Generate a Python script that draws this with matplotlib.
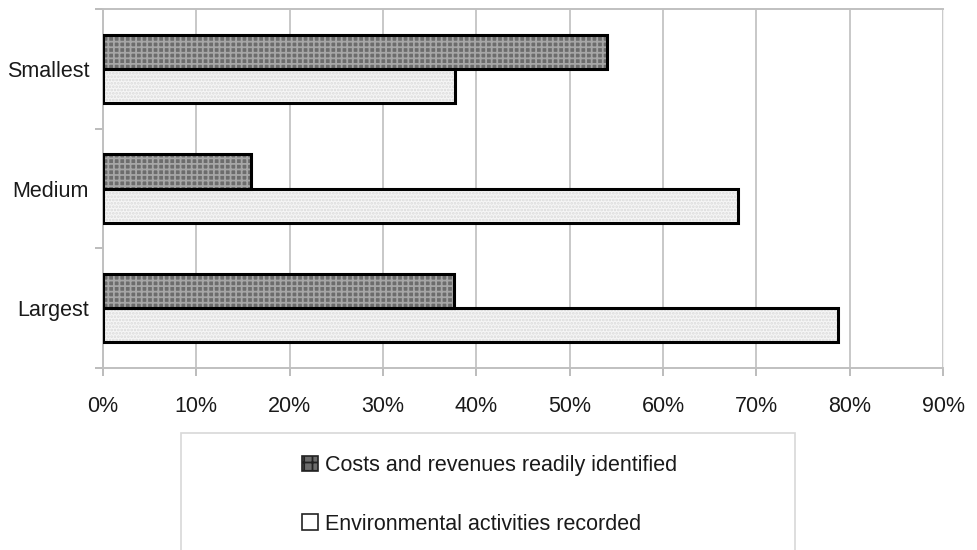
import numpy as np
import matplotlib.pyplot as plt
from matplotlib.patches import Rectangle, Patch
from matplotlib.ticker import FixedLocator, PercentFormatter

plt.rcParams['font.family'] = ['Liberation Sans', 'DejaVu Sans']
plt.rcParams['hatch.linewidth'] = 1.3

# share of firms in each size band (%)
sizes = ['Largest', 'Medium', 'Smallest']
costs_identified = [37.6, 15.9, 54.0]
activities_recorded = [78.8, 68.0, 37.7]
labels = ['Costs and revenues readily identified', 'Environmental activities recorded']
xticks = [0, 10, 20, 30, 40, 50, 60, 70, 80, 90]

fig = plt.figure(figsize=(9.77, 5.5), dpi=100)
ax = fig.add_axes([0.1054, 0.3309, 0.8598, 0.6527])

y = np.arange(len(sizes))
h = 0.285

dark_face, dark_hatch = '#6c6c6c', '#a6a6a6'
light_face, light_hatch = '#f6f6f6', '#dadada'

# fill + hatch first, then the black outlines on top
ax.barh(y + h / 2, costs_identified, height=h, color=dark_face,
        edgecolor=dark_hatch, hatch='+++', linewidth=0, zorder=2)
ax.barh(y - h / 2, activities_recorded, height=h, color=light_face,
        edgecolor=light_hatch, hatch='.....', linewidth=0, zorder=2)
ax.barh(y + h / 2, costs_identified, height=h, fill=False,
        edgecolor='black', linewidth=2.2, zorder=3)
ax.barh(y - h / 2, activities_recorded, height=h, fill=False,
        edgecolor='black', linewidth=2.2, zorder=3)

ax.set_xlim(0, 90)
ax.set_ylim(-0.5, 2.5)
ax.set_xticks(xticks)
ax.xaxis.set_major_formatter(PercentFormatter(decimals=0))
ax.set_yticks(y)
ax.set_yticklabels(sizes)
ax.yaxis.set_minor_locator(FixedLocator([-0.5, 0.5, 1.5, 2.5]))

ax.grid(axis='x', color='#c8c8c8', linewidth=1.4, zorder=0)
ax.set_axisbelow(True)
ax.tick_params(axis='x', length=6, width=1.2, color='#b0b0b0', pad=14,
               labelsize=15.5, labelcolor='#1a1a1a')
ax.tick_params(axis='y', which='major', length=0, pad=10,
               labelsize=15.5, labelcolor='#1a1a1a')
ax.tick_params(axis='y', which='minor', length=6, width=1.2, color='#b0b0b0')

for side in ['left', 'bottom', 'top']:
    ax.spines[side].set_color('#c0c0c0')
    ax.spines[side].set_linewidth(1.4)
ax.spines['right'].set_color('#f0f0f0')

# legend frame below the plot
fig.patches.append(Rectangle((181 / 977, -0.05), (795 - 181) / 977,
                             1.05 - 433 / 550, transform=fig.transFigure,
                             fill=False, edgecolor='#d8d8d8', linewidth=1.2))

handles = [Patch(facecolor=dark_face, edgecolor='#222222', hatch='++', linewidth=1.2),
           Patch(facecolor='white', edgecolor='#222222', linewidth=1.2)]
fig.legend(handles, labels, loc='upper left', bbox_to_anchor=(302 / 977, 1 - 455 / 550),
           frameon=False, fontsize=15.5, handlelength=0.75, handleheight=0.75,
           handletextpad=0.3, labelspacing=1.75, borderpad=0, borderaxespad=0,
           labelcolor='#1a1a1a')

fig.savefig('out.png', dpi=100)
